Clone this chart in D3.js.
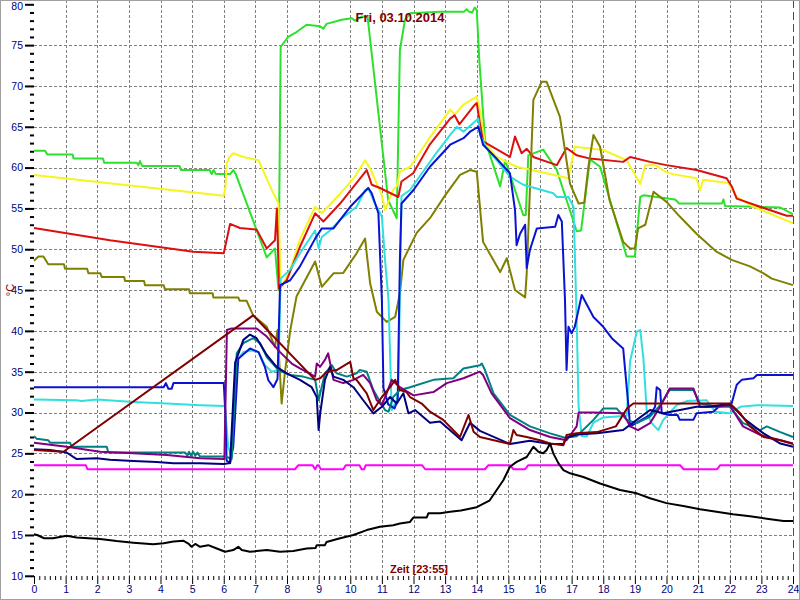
<!DOCTYPE html>
<html><head><meta charset="utf-8">
<script src="https://cdn.jsdelivr.net/npm/d3@7"></script>
<style>body{margin:0;background:#fff}svg{display:block}</style>
</head><body><svg id="c" width="800" height="600"></svg>
<script>
const title = "Fri, 03.10.2014";
const xTitle = "Zeit [23:55]";
const yTitle = "°C";
const xTicks = d3.range(0, 25, 1);
const yTicks = d3.range(10, 81, 5);

const green = [[0,62.05],[0.35,62.05],[0.42,61.6],[1.22,61.6],[1.25,61.1],[2.18,61.1],[2.22,60.6],[3.25,60.6],[3.3,60.3],[3.35,60.8],[3.42,60.2],[4.6,60.2],[4.65,59.7],[5.55,59.7],[5.62,59.2],[5.68,59.7],[5.75,59.2],[6.2,59.2],[6.3,59.7],[6.38,59.2],[7.36,49.0],[7.62,50.1],[7.73,45.0],[7.8,74.8],[8.04,76.0],[8.3,76.6],[8.62,77.5],[9.05,77.3],[9.15,77.0],[9.25,77.6],[9.73,78.1],[10.05,78.3],[10.15,78.0],[10.36,78.5],[10.55,78.4],[11.2,56.0],[11.47,53.8],[11.57,74.4],[11.73,78.1],[11.89,78.9],[12.84,79.1],[13.6,79.1],[13.68,79.4],[13.75,79.1],[13.85,79.0],[13.94,79.6],[14.0,79.3],[14.08,73.2],[14.26,63.4],[14.74,57.7],[14.9,60.9],[15.47,54.2],[15.55,54.2],[15.63,61.5],[16.1,62.2],[16.53,59.7],[17.16,52.2],[17.3,52.3],[17.58,61.0],[17.9,60.1],[18.74,49.1],[19.0,49.1],[19.17,56.4],[19.27,56.6],[20.27,56.1],[20.4,55.6],[21.75,55.6],[21.8,56.1],[21.85,55.3],[23.6,55.1],[24,54.3]];

const yellow = [[0,59.1],[6.0,56.55],[6.05,57.5],[6.1,60.6],[6.18,61.3],[6.3,61.75],[6.62,61.3],[7.1,60.9],[7.52,57.25],[7.73,55.6],[7.8,45.2],[8.1,47.5],[8.41,51.2],[8.89,55.2],[9.1,54.4],[9.68,56.8],[10.15,58.9],[10.47,60.9],[10.63,59.9],[11.0,56.6],[11.1,54.8],[11.36,57.3],[11.47,57.7],[11.57,59.5],[11.9,60.1],[12.5,63.6],[13.16,67.1],[13.3,66.5],[13.58,67.7],[14.0,68.7],[14.1,67.0],[14.26,63.0],[14.63,61.3],[15.26,60.1],[16.21,59.3],[16.9,58.7],[17.1,62.55],[18.0,62.15],[18.74,60.9],[19.17,58.0],[19.33,60.3],[19.64,60.3],[19.96,59.5],[20.2,59.2],[20.95,58.7],[21.06,57.2],[21.16,58.5],[21.96,58.1],[22.22,56.4],[22.75,55.2],[24,53.2]];

const red = [[0,52.6],[2.4,51.1],[5.04,49.7],[6.0,49.5],[6.2,53.1],[6.51,52.6],[7.04,52.4],[7.36,50.1],[7.62,51.1],[7.68,55.0],[7.75,45.2],[7.99,46.2],[8.41,50.3],[8.89,54.4],[9.15,53.4],[9.68,55.6],[10.52,59.7],[10.68,57.9],[10.94,57.5],[11.52,56.4],[11.62,58.3],[11.99,59.3],[12.5,62.75],[13.16,66.0],[13.3,66.4],[13.45,65.3],[13.94,67.7],[14.0,67.9],[14.1,65.4],[14.2,63.2],[15.05,61.3],[15.21,63.8],[15.42,61.75],[15.58,62.3],[15.79,61.3],[16.53,60.3],[16.84,62.4],[17.16,61.5],[17.58,61.1],[18.63,60.7],[18.85,61.3],[19.48,60.7],[20.0,60.3],[20.95,59.7],[21.9,58.7],[22.07,57.65],[22.22,56.2],[22.96,55.2],[23.8,54.1],[24,54.1]];

const olive = [[0,48.6],[0.14,49.1],[0.3,49.1],[0.45,48.15],[0.95,48.15],[0.98,47.6],[1.68,47.6],[1.72,47.05],[2.1,47.05],[2.14,46.6],[2.85,46.6],[2.88,46.1],[3.48,46.1],[3.51,45.6],[4.1,45.6],[4.14,45.1],[4.9,45.1],[4.93,44.6],[5.65,44.6],[5.67,44.1],[6.46,44.1],[6.5,43.7],[6.72,43.7],[6.93,41.9],[7.36,40.5],[7.62,38.05],[7.7,40.1],[7.83,31.1],[7.93,34.75],[8.1,40.0],[8.3,44.2],[8.89,48.5],[9.1,45.4],[9.47,47.05],[9.78,47.1],[10.2,49.5],[10.47,51.3],[10.52,49.5],[10.63,45.8],[10.84,42.35],[11.15,41.1],[11.42,41.7],[11.57,44.6],[11.68,48.7],[12.1,52.0],[12.52,53.8],[13.0,56.6],[13.47,59.1],[13.79,59.7],[14.0,59.5],[14.2,50.9],[14.74,47.2],[14.95,48.9],[15.21,45.0],[15.53,44.1],[15.58,47.05],[15.79,68.3],[16.05,70.5],[16.21,70.5],[16.63,66.2],[16.95,58.0],[17.22,55.6],[17.4,55.7],[17.53,60.1],[17.69,64.0],[17.9,62.55],[18.2,56.0],[18.63,50.9],[18.85,50.1],[19.0,50.1],[19.1,52.55],[19.33,53.0],[19.59,57.05],[20.0,55.8],[20.42,54.0],[20.95,51.9],[21.58,49.7],[22.06,48.7],[22.64,47.9],[23.07,47.05],[23.33,46.4],[24,45.6]];

const cyan = [[0,31.6],[1.35,31.5],[1.5,31.4],[2.0,31.6],[3.14,31.3],[4.2,31.1],[5.25,30.9],[6.04,30.8],[6.14,25.8],[6.25,24.6],[6.41,36.3],[6.62,37.4],[6.88,37.6],[7.1,37.4],[7.3,35.8],[7.52,35.0],[7.73,35.2],[7.8,46.4],[8.1,47.5],[8.41,49.5],[8.89,52.3],[9.0,50.1],[9.1,51.5],[9.36,52.3],[9.68,53.6],[10.2,55.2],[10.47,57.25],[10.57,57.5],[10.73,56.0],[11.0,54.0],[11.1,48.7],[11.21,43.8],[11.31,30.3],[11.47,31.5],[11.52,32.75],[11.62,56.5],[11.89,57.25],[12.63,61.3],[13.16,64.0],[13.37,65.0],[13.58,64.4],[14.05,66.0],[14.1,64.0],[14.31,62.4],[15.05,58.9],[15.47,57.9],[16.42,56.85],[16.53,56.4],[16.9,56.4],[17.06,55.2],[17.16,41.3],[17.22,30.8],[17.32,27.1],[17.48,27.1],[17.69,28.75],[18.0,29.4],[18.74,29.6],[18.85,36.3],[19.06,39.9],[19.17,40.1],[19.27,36.6],[19.38,29.9],[19.53,28.7],[19.74,27.85],[19.9,29.1],[20.32,30.9],[20.64,31.4],[21.27,31.5],[21.54,30.1],[22.0,29.9],[22.33,30.7],[22.86,30.9],[24,30.8]];

const blue = [[0,33.1],[4.1,33.1],[4.17,33.6],[4.25,32.9],[4.35,32.9],[4.41,33.6],[6.0,33.6],[6.05,30.0],[6.09,24.1],[6.2,23.8],[6.3,25.8],[6.46,36.6],[6.83,37.85],[7.1,37.4],[7.3,35.6],[7.41,33.95],[7.57,33.1],[7.7,34.1],[7.78,45.6],[8.1,46.2],[8.41,47.9],[8.89,51.3],[9.1,52.55],[9.47,52.55],[10.0,55.2],[10.57,57.5],[10.68,56.85],[10.89,54.4],[11.0,43.8],[11.05,33.0],[11.2,31.0],[11.4,30.5],[11.5,31.5],[11.57,48.7],[11.62,55.6],[12.0,57.25],[12.52,60.1],[13.16,62.8],[13.58,63.6],[13.79,64.4],[14.05,65.0],[14.2,62.8],[14.63,61.1],[15.05,59.3],[15.21,54.8],[15.26,50.5],[15.37,51.9],[15.53,53.0],[15.58,47.7],[15.68,49.9],[15.9,52.55],[16.48,52.75],[16.58,54.2],[16.69,53.4],[16.79,43.8],[16.84,35.2],[16.9,40.5],[17.0,39.7],[17.1,40.5],[17.32,44.4],[17.69,41.7],[18.0,40.5],[18.27,39.1],[18.63,37.85],[18.8,30.6],[18.85,28.3],[19.0,28.6],[19.48,29.7],[19.64,30.7],[19.69,33.1],[19.8,32.75],[19.85,29.9],[20.1,29.7],[20.35,29.7],[20.42,29.1],[20.85,29.1],[20.95,29.9],[21.48,30.1],[21.7,30.9],[22.06,31.1],[22.22,33.4],[22.38,34.0],[22.75,34.2],[22.86,34.6],[24,34.6]];

const navy = [[0,25.5],[0.51,25.4],[1.03,25.1],[1.35,24.3],[1.98,24.4],[2.4,24.2],[3.14,24.05],[3.88,23.95],[4.41,23.8],[5.25,23.8],[6.0,23.7],[6.2,23.8],[6.36,36.1],[6.62,38.9],[6.83,39.55],[7.04,39.1],[7.36,37.05],[7.67,35.6],[7.99,34.8],[8.41,34.0],[8.78,33.1],[8.94,31.9],[9.0,27.85],[9.05,29.9],[9.2,34.0],[9.36,35.6],[9.47,34.4],[9.78,34.0],[10.1,33.1],[10.41,31.5],[10.73,29.9],[11.0,30.7],[11.26,31.9],[11.47,31.1],[11.68,32.35],[11.84,29.9],[12.05,30.3],[12.52,28.75],[12.84,28.9],[13.52,26.6],[13.79,28.75],[14.1,27.75],[15.05,26.15],[15.68,26.55],[16.32,26.15],[16.74,26.15],[16.84,26.9],[17.16,27.3],[17.8,27.45],[18.63,27.85],[19.06,29.1],[19.48,30.3],[19.9,29.9],[20.95,30.7],[21.3,30.7],[22.0,31.0],[22.1,30.7],[22.5,29.1],[23.07,27.45],[23.6,26.2],[24,25.8]];

const teal = [[0,27.1],[0.08,26.8],[0.45,26.6],[0.51,26.3],[1.14,26.3],[1.19,25.8],[2.3,25.8],[2.35,25.1],[4.78,25.1],[4.85,24.7],[4.9,25.2],[4.97,24.7],[5.03,25.2],[5.1,24.7],[5.17,25.1],[5.25,24.6],[6.09,24.6],[6.25,24.3],[6.41,37.25],[6.62,38.5],[6.93,39.1],[7.15,38.5],[7.36,36.8],[7.73,35.2],[8.1,34.6],[8.51,34.4],[8.89,34.0],[9.0,31.5],[9.2,34.8],[9.42,35.8],[9.57,34.8],[9.89,34.4],[10.2,34.8],[10.3,35.2],[10.52,35.0],[10.73,32.75],[11.1,30.3],[11.21,30.1],[11.36,31.9],[11.57,32.75],[11.89,33.1],[12.63,34.0],[13.26,34.2],[13.58,35.4],[14.1,35.8],[14.16,36.0],[14.26,35.2],[14.53,32.35],[15.05,29.7],[15.68,28.3],[16.32,27.45],[16.79,26.9],[17.16,27.1],[17.69,29.1],[18.0,30.5],[18.42,30.5],[18.74,29.1],[19.06,28.7],[19.48,29.5],[19.8,30.9],[20.1,32.75],[20.85,32.75],[21.06,31.1],[21.58,30.7],[22.0,30.7],[22.42,28.7],[22.96,27.85],[23.17,28.3],[23.6,27.6],[24,27.0]];

const purple = [[0,26.3],[1.03,25.8],[2.09,25.2],[3.14,25.0],[4.2,24.8],[5.25,24.4],[6.02,24.3],[6.1,40.1],[6.25,40.3],[7.04,40.3],[7.36,39.3],[7.78,37.4],[8.15,36.0],[8.41,35.4],[8.89,34.4],[8.94,36.0],[9.05,35.6],[9.2,36.45],[9.3,37.25],[9.47,34.0],[9.78,33.6],[10.1,34.0],[10.41,34.6],[10.63,33.6],[10.84,31.5],[11.0,30.9],[11.15,32.35],[11.31,34.0],[11.57,33.1],[12.0,32.1],[12.63,32.5],[13.05,33.6],[13.58,34.2],[14.1,35.0],[14.2,34.6],[14.47,32.35],[15.05,29.3],[15.68,27.85],[16.32,27.0],[16.84,26.6],[17.16,28.3],[17.22,30.0],[17.69,30.0],[18.63,29.9],[18.85,28.3],[19.1,27.85],[19.48,28.7],[19.8,30.7],[20.1,32.95],[20.85,32.95],[21.06,30.7],[21.58,30.7],[22.0,30.9],[22.42,28.3],[22.96,27.25],[23.6,26.6],[24,26.2]];

const maroon = [[0,25.4],[0.93,25.2],[6.93,41.9],[8.89,34.0],[9.05,34.2],[9.26,35.0],[9.57,35.2],[10.0,36.2],[10.1,34.2],[10.2,34.0],[10.52,32.35],[10.73,30.3],[11.0,31.9],[11.26,33.1],[11.42,34.0],[11.57,32.75],[11.78,32.5],[11.89,31.9],[12.26,31.1],[12.52,30.1],[12.94,29.1],[13.47,27.0],[13.74,29.7],[13.9,27.65],[14.1,27.0],[15.05,26.15],[15.16,27.85],[15.26,27.25],[15.58,27.0],[16.0,26.6],[16.32,26.2],[16.74,26.0],[16.84,27.25],[17.16,27.45],[17.8,27.6],[18.4,28.3],[18.75,30.5],[18.95,31.1],[22.0,31.1],[22.33,29.9],[22.64,28.3],[23.07,27.0],[23.6,26.6],[24,26.15]];

const magenta = [[0,23.55],[1.64,23.55],[1.69,23.05],[8.25,23.05],[8.36,23.55],[8.81,23.55],[8.89,23.05],[8.96,23.55],[9.0,23.55],[9.07,23.05],[9.78,23.05],[9.86,23.55],[10.29,23.55],[10.36,23.05],[10.44,23.05],[10.49,23.55],[12.27,23.55],[12.37,23.05],[14.26,23.05],[14.37,23.55],[15.05,23.55],[15.16,23.05],[15.53,23.05],[15.63,23.55],[20.43,23.55],[20.54,23.05],[21.6,23.05],[21.7,23.55],[24,23.55]];

const black = [[0,15.1],[0.1,15.0],[0.32,14.6],[0.6,14.6],[1.03,14.9],[1.35,14.7],[2.09,14.5],[2.61,14.25],[3.14,14.05],[3.77,13.85],[4.1,14.0],[4.41,14.2],[4.72,14.3],[4.88,13.95],[4.98,13.55],[5.1,13.9],[5.25,13.55],[5.51,13.75],[5.78,13.35],[6.04,12.95],[6.3,13.15],[6.46,13.55],[6.57,13.15],[6.83,12.95],[7.36,13.15],[7.78,12.95],[8.2,13.05],[8.62,13.35],[8.9,13.4],[8.94,13.75],[9.2,13.75],[9.25,14.15],[9.68,14.6],[10.1,15.0],[10.52,15.6],[10.94,16.0],[11.36,16.2],[11.57,16.4],[11.89,16.6],[12.0,17.15],[12.42,17.15],[12.47,17.65],[12.84,17.65],[13.16,17.85],[13.5,18.0],[14.0,18.4],[14.4,19.2],[14.84,21.7],[15.05,23.35],[15.26,23.95],[15.58,24.55],[15.79,25.8],[15.95,25.2],[16.1,25.0],[16.21,25.4],[16.32,26.2],[16.42,25.0],[16.58,23.8],[16.74,22.95],[16.95,22.55],[17.37,22.1],[17.9,21.3],[18.53,20.5],[19.06,20.1],[19.48,19.5],[20.0,18.9],[20.53,18.55],[21.06,18.15],[21.58,17.85],[22.1,17.55],[22.64,17.3],[23.17,17.0],[23.7,16.7],[24,16.7]];

const seriesList = [
  {data: green, color: "#2ee02e"},
  {data: yellow, color: "#f5f520"},
  {data: red, color: "#dd1010"},
  {data: olive, color: "#808000"},
  {data: cyan, color: "#30e0e0"},
  {data: blue, color: "#0a14d0"},
  {data: teal, color: "#008080"},
  {data: purple, color: "#800080"},
  {data: navy, color: "#000080"},
  {data: maroon, color: "#800000"},
  {data: magenta, color: "#ff00ff"},
  {data: black, color: "#000000"}
];

const svg = d3.select("#c");
const x = d3.scaleLinear().domain([0, 24]).range([34, 793]);
const y = d3.scaleLinear().domain([10, 80]).range([575.8, 4.3]);
const FONT = "Liberation Sans, Arial, sans-serif";

svg.append("rect").attr("x",0).attr("y",0).attr("width",800).attr("height",600).attr("fill","#fff");

// grid
const grid = svg.append("g").attr("stroke","#808080").attr("stroke-width",1).attr("stroke-dasharray","3,2").attr("shape-rendering","crispEdges");
xTicks.filter(t => t > 0 && t < 24).forEach(t => {
  grid.append("line").attr("x1", Math.round(x(t))+0.5).attr("x2", Math.round(x(t))+0.5).attr("y1", 0).attr("y2", y(10));
});
yTicks.filter(t => t > 10 && t < 80).forEach(t => {
  grid.append("line").attr("y1", Math.round(y(t))+0.5).attr("y2", Math.round(y(t))+0.5).attr("x1", x(0)).attr("x2", x(24));
});
// current time marker
svg.append("line").attr("x1", Math.round(x(24))+0.5).attr("x2", Math.round(x(24))+0.5)
  .attr("y1", 0).attr("y2", y(10)).attr("stroke","#008000").attr("stroke-dasharray","8,4").attr("shape-rendering","crispEdges");

// y axis
const yAxis = d3.axisLeft(y).tickValues(yTicks).tickSize(9).tickPadding(2);
const gy = svg.append("g").attr("transform","translate(34,0)").call(yAxis);
gy.select(".domain").remove();
gy.selectAll(".tick line").attr("stroke","#000").attr("stroke-width",2);
gy.selectAll(".tick text").attr("fill","#000080").attr("font-family",FONT).attr("font-size",10.5);
gy.selectAll(".tick").filter(d => d === 80).select("text").attr("y", 2);
const yMinor = d3.axisLeft(y).tickValues(d3.range(10, 81, 1).filter(v => v % 5 !== 0)).tickSize(4).tickFormat("");
const gym = svg.append("g").attr("transform","translate(34,0)").call(yMinor);
gym.select(".domain").remove();
gym.selectAll(".tick line").attr("stroke","#000").attr("stroke-width",2);

// x axis
const xAxis = d3.axisBottom(x).tickValues(xTicks).tickSize(8).tickPadding(2).tickFormat(d3.format("d"));
const gx = svg.append("g").attr("transform","translate(0,576)").call(xAxis);
gx.select(".domain").remove();
gx.selectAll(".tick line").attr("stroke","#000").attr("stroke-width",1);
gx.selectAll(".tick text").attr("fill","#000080").attr("font-family",FONT).attr("font-size",10.5);
const xMinorVals = d3.range(0, 24*6+1).map(i => i/6).filter((v,i) => i % 6 !== 0);
const xMinor = d3.axisBottom(x).tickValues(xMinorVals).tickSize(4).tickFormat("");
const gxm = svg.append("g").attr("transform","translate(0,576)").call(xMinor);
gxm.select(".domain").remove();
gxm.selectAll(".tick line").attr("stroke","#000").attr("stroke-width",1);

// lines
const line = d3.line().x(d => x(d[0])).y(d => y(d[1]));
seriesList.forEach(s => {
  svg.append("path").datum(s.data).attr("d", line).attr("fill","none")
    .attr("stroke", s.color).attr("stroke-width", 2).attr("stroke-linejoin","round");
});

// titles
svg.append("text").attr("x", 400).attr("y", 22).attr("text-anchor","middle")
  .attr("font-family",FONT).attr("font-weight","bold").attr("font-size",13)
  .attr("fill","#800000").text(title);
svg.append("text").attr("x", 419).attr("y", 573).attr("text-anchor","middle")
  .attr("font-family",FONT).attr("font-weight","bold").attr("font-size",11)
  .attr("fill","#800000").text(xTitle);
svg.append("text").attr("transform","translate(14,290) rotate(-90)").attr("text-anchor","middle")
  .attr("font-family",FONT).attr("font-size",11)
  .attr("fill","#800000").text(yTitle);

// border
svg.append("rect").attr("x",0.5).attr("y",0.5).attr("width",799).attr("height",599)
  .attr("fill","none").attr("stroke","#a0a0a0");
</script></body></html>
